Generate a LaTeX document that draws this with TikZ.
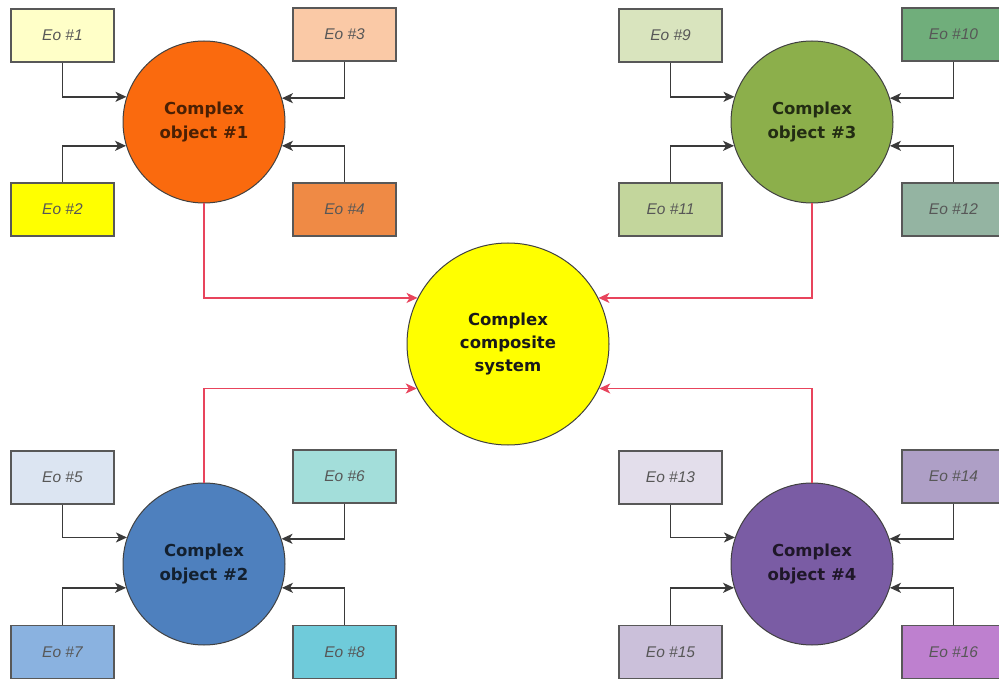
\documentclass[tikz,border=0pt]{standalone}
\usepackage{fontspec}
\setmainfont{DejaVu Sans}
\newfontfamily\boxfont{Liberation Sans}
\usetikzlibrary{arrows.meta}
\definecolor{eoA}{HTML}{FFFFC8}
\definecolor{eoB}{HTML}{FFFF00}
\definecolor{eoC}{HTML}{FAC9A6}
\definecolor{eoD}{HTML}{EF8A45}
\definecolor{eoE}{HTML}{DCE5F2}
\definecolor{eoF}{HTML}{A3DEDA}
\definecolor{eoG}{HTML}{8AB2E0}
\definecolor{eoH}{HTML}{6FCBDA}
\definecolor{eoI}{HTML}{D9E4BE}
\definecolor{eoJ}{HTML}{70AE7B}
\definecolor{eoK}{HTML}{C3D69C}
\definecolor{eoL}{HTML}{94B4A2}
\definecolor{eoM}{HTML}{E3DEEB}
\definecolor{eoN}{HTML}{AE9FC6}
\definecolor{eoO}{HTML}{CBC0DA}
\definecolor{eoP}{HTML}{BE80CF}
\definecolor{cOrange}{HTML}{FA6A0E}
\definecolor{cGreen}{HTML}{8CAF4B}
\definecolor{cBlue}{HTML}{4E80BE}
\definecolor{cPurple}{HTML}{7A5CA4}
\definecolor{cYellow}{HTML}{FFFF00}
\definecolor{redline}{HTML}{E8445C}
\definecolor{grayline}{HTML}{3A3A3A}
\tikzset{
  eobox/.style={draw=grayline!85, line width=1.4pt, minimum width=103pt, minimum height=53pt,
    inner sep=0pt, font=\boxfont\itshape\fontsize{15.5}{17}\selectfont, text=black!66},
  cobj/.style={circle, draw=black!75, line width=1pt, minimum size=162pt, inner sep=0pt,
    align=center, font=\bfseries\fontsize{16.5}{24}\selectfont},
  garrow/.style={draw=grayline, line width=1.5pt, -{Stealth[length=11pt,width=10pt,inset=3pt]}},
  rarrow/.style={draw=redline, line width=1.5pt, -{Stealth[length=11pt,width=10pt,inset=3pt]}}
}
\begin{document}
\begin{tikzpicture}[x=1pt,y=-1pt]
\useasboundingbox (0,0) rectangle (999,679);
% circles
\node[cobj, fill=cOrange, text=black!70!cOrange] (c1) at (204,122) {Complex\\object \#1};
\node[cobj, fill=cGreen, text=black!75!cGreen] (c3) at (812,122) {Complex\\object \#3};
\node[cobj, fill=cBlue, text=black!75!cBlue] (c2) at (204,564) {Complex\\object \#2};
\node[cobj, fill=cPurple, text=black!75!cPurple] (c4) at (812,564) {Complex\\object \#4};
\node[cobj, fill=cYellow, text=black!90, minimum size=202pt, font=\bfseries\fontsize{16.5}{23}\selectfont] (cs) at (508,344) {Complex\\composite\\system};
% boxes
\node[eobox, fill=eoA] (e1) at (62.5,35.5) {Eo \#1};
\node[eobox, fill=eoB] (e2) at (62.5,209.5) {Eo \#2};
\node[eobox, fill=eoC] (e3) at (344.5,34.5) {Eo \#3};
\node[eobox, fill=eoD] (e4) at (344.5,209.5) {Eo \#4};
\node[eobox, fill=eoE] (e5) at (62.5,477.5) {Eo \#5};
\node[eobox, fill=eoF] (e6) at (344.5,476.5) {Eo \#6};
\node[eobox, fill=eoG] (e7) at (62.5,652) {Eo \#7};
\node[eobox, fill=eoH] (e8) at (344.5,652) {Eo \#8};
\node[eobox, fill=eoI] (e9) at (670.5,35.5) {Eo \#9};
\node[eobox, fill=eoJ] (e10) at (953.5,34.5) {Eo \#10};
\node[eobox, fill=eoK] (e11) at (670.5,209.5) {Eo \#11};
\node[eobox, fill=eoL] (e12) at (953.5,209.5) {Eo \#12};
\node[eobox, fill=eoM] (e13) at (670.5,477.5) {Eo \#13};
\node[eobox, fill=eoN] (e14) at (953.5,476.5) {Eo \#14};
\node[eobox, fill=eoO] (e15) at (670.5,652) {Eo \#15};
\node[eobox, fill=eoP] (e16) at (953.5,652) {Eo \#16};
% gray arrows
\draw[garrow] (e1.south) |- (c1.162.5);
\draw[garrow] (e2.north) |- (c1.197.5);
\draw[garrow] (e3.south) |- (c1.17.5);
\draw[garrow] (e4.north) |- (c1.-17.5);
\draw[garrow] (e9.south) |- (c3.162.5);
\draw[garrow] (e11.north) |- (c3.197.5);
\draw[garrow] (e10.south) |- (c3.17.5);
\draw[garrow] (e12.north) |- (c3.-17.5);
\draw[garrow] (e5.south) |- (c2.161.5);
\draw[garrow] (e7.north) |- (c2.197.5);
\draw[garrow] (e6.south) |- (c2.18.5);
\draw[garrow] (e8.north) |- (c2.-17.5);
\draw[garrow] (e13.south) |- (c4.161.5);
\draw[garrow] (e15.north) |- (c4.197.5);
\draw[garrow] (e14.south) |- (c4.18.5);
\draw[garrow] (e16.north) |- (c4.-17.5);
% red arrows
\draw[rarrow] (c1.south) |- (cs.153);
\draw[rarrow] (c3.south) |- (cs.27);
\draw[rarrow] (c2.north) |- (cs.206);
\draw[rarrow] (c4.north) |- (cs.-26);
\end{tikzpicture}
\end{document}
